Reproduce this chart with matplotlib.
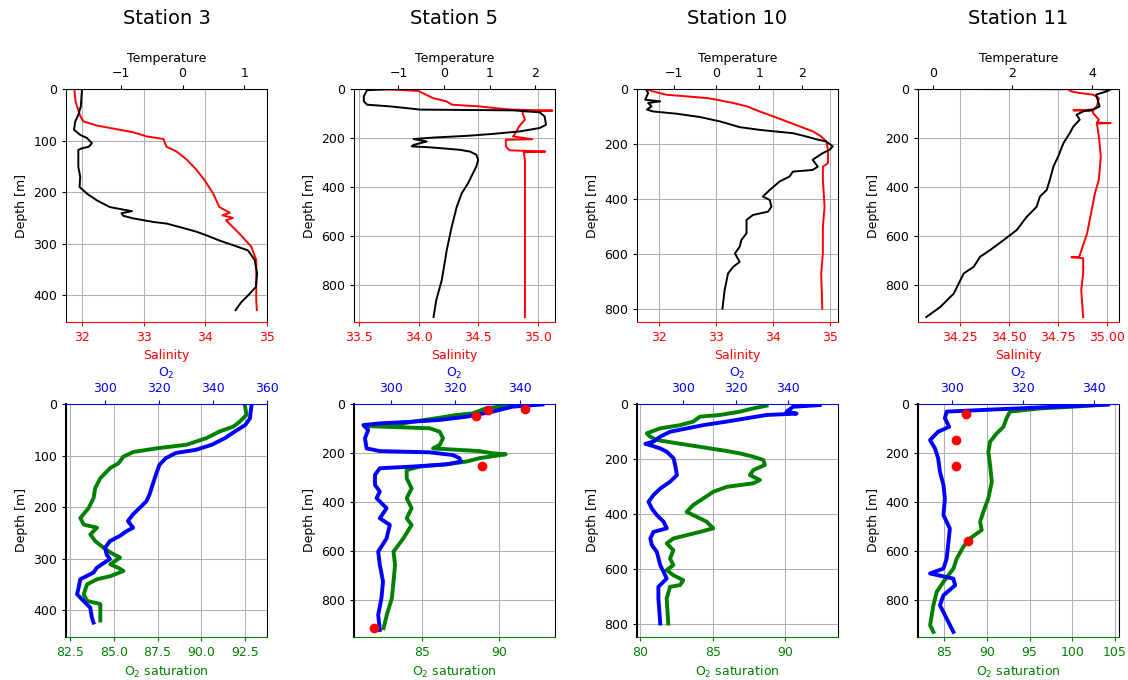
import matplotlib
matplotlib.use('Agg')
import matplotlib.pyplot as plt

# ---------------- data ----------------
stations = ['Station 3', 'Station 5', 'Station 10', 'Station 11']

# Station 3 CTD
s3_sal_d = [0, 24, 43, 53, 63, 71, 78, 84, 92, 97, 112, 121, 136, 157, 177, 203, 229, 240, 245, 250, 255, 281, 306, 332, 371, 410, 429]
s3_sal = [31.87, 31.89, 31.94, 31.97, 32.02, 32.24, 32.56, 32.83, 33.05, 33.32, 33.37, 33.53, 33.69, 33.86, 33.99, 34.13, 34.23, 34.40, 34.28, 34.45, 34.34, 34.56, 34.75, 34.83, 34.83, 34.83, 34.84]
s3_temp_d = [0, 34, 50, 63, 79, 89, 95, 105, 112, 115, 118, 151, 170, 190, 203, 216, 229, 234, 237, 241, 246, 251, 258, 261, 268, 277, 284, 294, 303, 313, 323, 332, 358, 384, 397, 414, 429]
s3_temp = [-1.63, -1.65, -1.69, -1.74, -1.76, -1.66, -1.55, -1.47, -1.52, -1.63, -1.69, -1.69, -1.66, -1.67, -1.55, -1.39, -1.18, -0.96, -0.82, -0.99, -0.96, -0.80, -0.47, -0.26, -0.04, 0.23, 0.39, 0.60, 0.82, 1.06, 1.12, 1.17, 1.21, 1.19, 1.09, 0.95, 0.86]
# Station 3 oxygen
s3_sat_d = [2, 21, 34, 44, 53, 66, 79, 86, 93, 102, 115, 124, 144, 163, 182, 202, 221, 234, 240, 253, 266, 279, 288, 298, 311, 318, 324, 334, 340, 350, 369, 382, 388, 404, 420]
s3_sat = [92.48, 92.58, 92.2, 91.82, 91.06, 90.3, 89.16, 87.45, 86.12, 85.55, 85.27, 84.8, 84.23, 83.94, 83.85, 83.56, 83.09, 83.28, 84.04, 83.66, 83.94, 84.42, 84.8, 85.36, 84.8, 85.27, 85.55, 84.8, 84.04, 83.47, 83.28, 83.47, 84.23, 84.23, 84.23]
s3_o2_d = [2, 28, 41, 53, 66, 79, 89, 95, 105, 118, 137, 156, 176, 189, 202, 214, 227, 240, 247, 256, 266, 279, 292, 301, 311, 318, 327, 340, 356, 369, 382, 395, 414, 424]
s3_o2 = [354.3, 353.7, 351.9, 348.2, 344.5, 339.6, 333.5, 326.2, 322.5, 320.1, 318.8, 317.6, 316.4, 315.2, 312.7, 310.3, 308.4, 310.3, 307.8, 305.4, 301.7, 299.9, 300.5, 301.7, 298.7, 296.8, 295.6, 290.7, 290.1, 289.5, 291.9, 294.4, 295.0, 295.6]
s3_bot_d = []
s3_bot_o2 = []

# Station 5 CTD
s5_sal_d = [0, 3, 8, 16, 37, 50, 64, 71, 78, 84, 88, 91, 98, 125, 153, 180, 193, 205, 207, 209, 234, 250, 255, 258, 289, 343, 500, 700, 930]
s5_sal = [33.55, 33.8, 34.0, 34.03, 34.12, 34.23, 34.28, 34.51, 34.64, 34.78, 35.12, 34.87, 34.87, 34.89, 34.84, 34.81, 34.79, 34.95, 34.73, 34.73, 34.73, 34.76, 35.06, 34.88, 34.89, 34.89, 34.89, 34.89, 34.89]
s5_temp_d = [0, 5, 30, 50, 64, 71, 78, 84, 87, 95, 112, 146, 159, 173, 183, 191, 198, 204, 214, 228, 234, 237, 241, 248, 255, 268, 289, 316, 357, 384, 425, 480, 561, 657, 780, 861, 930]
s5_temp = [-1.18, -1.69, -1.76, -1.76, -1.69, -1.18, -0.82, -0.52, 1.51, 2.10, 2.21, 2.24, 2.10, 1.66, 1.08, 0.50, -0.23, -0.67, -0.38, -0.67, -0.71, -0.38, -0.09, 0.35, 0.57, 0.71, 0.75, 0.71, 0.60, 0.53, 0.39, 0.28, 0.17, 0.06, -0.05, -0.17, -0.23]
# Station 5 oxygen
s5_sat_d = [4, 11, 18, 38, 45, 58, 72, 86, 90, 92, 99, 113, 140, 167, 181, 192, 201, 205, 221, 235, 246, 255, 269, 303, 344, 384, 425, 466, 493, 548, 602, 656, 724, 792, 860, 914]
s5_sat = [90.67, 90.02, 89.16, 88.3, 87.22, 85.93, 84.42, 83.13, 81.3, 82.26, 85.5, 86.14, 86.36, 86.14, 85.71, 88.73, 89.59, 90.45, 88.73, 87.87, 86.57, 84.85, 83.99, 83.99, 84.31, 83.99, 84.31, 83.99, 84.31, 83.77, 83.13, 83.23, 83.13, 83.02, 82.69, 82.48]
s5_o2_d = [2, 11, 31, 52, 65, 72, 79, 86, 106, 140, 181, 192, 197, 208, 221, 235, 246, 255, 262, 289, 330, 357, 384, 425, 466, 493, 548, 602, 656, 724, 792, 860, 921]
s5_o2 = [347, 337.7, 331.6, 323.3, 315.1, 306.9, 296.6, 291.5, 293.0, 292.0, 292.5, 296.6, 312.0, 319.2, 321.3, 321.8, 317.2, 306.9, 296.6, 295.1, 295.1, 296.6, 295.6, 298.7, 296.6, 299.7, 298.7, 296.1, 296.6, 297.6, 297.1, 296.1, 296.6]
s5_bot_d = [22, 24, 47, 252, 912]
s5_bot_o2 = [341.5, 330.2, 326.4, 328.4, 294.8]

# Station 10 CTD
s10_sal_d = [0, 9, 21, 27, 33, 39, 51, 63, 82, 100, 118, 136, 155, 173, 191, 222, 270, 283, 331, 429, 502, 599, 672, 800]
s10_sal = [31.75, 31.90, 32.13, 32.49, 32.84, 33.01, 33.30, 33.54, 33.77, 34.01, 34.24, 34.47, 34.71, 34.85, 34.94, 34.97, 34.97, 34.88, 34.88, 34.91, 34.88, 34.88, 34.85, 34.87]
s10_temp_d = [2, 15, 39, 45, 51, 63, 75, 82, 90, 102, 118, 139, 149, 155, 161, 173, 183, 191, 209, 222, 234, 258, 283, 295, 301, 319, 337, 368, 392, 404, 429, 447, 459, 477, 526, 550, 575, 599, 630, 648, 672, 733, 800]
s10_temp = [-1.64, -1.59, -1.66, -1.31, -1.59, -1.51, -1.62, -1.47, -0.93, -0.39, 0.08, 0.54, 1.01, 1.39, 1.78, 2.09, 2.32, 2.55, 2.71, 2.63, 2.47, 2.24, 2.36, 2.24, 1.78, 1.70, 1.47, 1.24, 1.08, 1.24, 1.28, 1.20, 0.85, 0.70, 0.70, 0.58, 0.54, 0.43, 0.54, 0.39, 0.27, 0.19, 0.14]
# Station 10 oxygen
s10_sat_d = [6, 16, 28, 40, 46, 64, 77, 89, 107, 119, 131, 143, 156, 162, 171, 180, 192, 204, 222, 241, 259, 277, 289, 302, 320, 344, 368, 393, 405, 429, 453, 466, 478, 490, 508, 533, 563, 587, 605, 624, 642, 660, 666, 709, 800]
s10_sat = [88.7, 87.78, 86.86, 85.49, 84.12, 83.66, 82.75, 81.37, 80.46, 80.69, 81.14, 82.52, 84.12, 84.81, 85.95, 86.86, 87.78, 88.47, 88.58, 87.78, 87.55, 88.24, 87.78, 85.95, 85.03, 84.35, 83.66, 83.2, 83.66, 84.58, 85.03, 84.12, 83.2, 82.29, 81.83, 82.29, 82.06, 82.29, 81.83, 82.29, 82.97, 82.75, 82.06, 81.83, 81.94]
s10_o2_d = [4, 10, 28, 35, 40, 52, 64, 77, 89, 101, 119, 137, 145, 150, 162, 174, 198, 222, 259, 283, 308, 332, 356, 381, 405, 429, 453, 466, 490, 514, 539, 587, 612, 636, 666, 709, 800]
s10_o2 = [352.2, 342.0, 339.5, 343.3, 331.8, 324.2, 316.6, 307.6, 301.3, 294.9, 291.1, 288.5, 285.4, 287.3, 291.1, 293.6, 296.2, 296.8, 297.5, 294.9, 291.1, 288.5, 286.6, 287.9, 289.8, 292.4, 293.6, 288.5, 287.3, 287.9, 289.8, 291.1, 292.4, 293.6, 290.4, 290.4, 291.1]
s10_bot_d = []
s10_bot_o2 = []

# Station 11 CTD
s11_sal_d = [0, 1, 10, 16, 23, 37, 71, 84, 87, 89, 98, 125, 137, 139, 141, 193, 275, 371, 425, 507, 589, 684, 686, 690, 752, 820, 930]
s11_sal = [34.09, 34.80, 34.82, 34.86, 34.93, 34.96, 34.95, 34.93, 34.83, 34.93, 34.93, 34.96, 34.95, 35.02, 34.95, 34.96, 34.97, 34.96, 34.94, 34.92, 34.90, 34.86, 34.82, 34.88, 34.88, 34.87, 34.88]
s11_temp_d = [0, 3, 10, 23, 50, 71, 84, 91, 105, 125, 153, 180, 221, 275, 316, 371, 412, 439, 480, 521, 575, 616, 657, 684, 725, 752, 834, 889, 930]
s11_temp = [4.1, 4.45, 4.36, 4.1, 4.15, 4.19, 4.03, 3.78, 3.61, 3.69, 3.53, 3.44, 3.28, 3.15, 3.03, 2.94, 2.86, 2.69, 2.61, 2.36, 2.11, 1.78, 1.44, 1.19, 1.03, 0.78, 0.53, 0.19, -0.16]
# Station 11 oxygen
s11_sat_d = [2, 11, 18, 31, 58, 93, 120, 154, 195, 249, 317, 385, 439, 480, 514, 548, 582, 630, 671, 725, 766, 820, 902, 929]
s11_sat = [104.06, 100.15, 96.2, 92.7, 92.3, 91.93, 91.14, 90.36, 90.16, 90.36, 90.56, 90.16, 89.58, 89.19, 89.38, 88.01, 87.23, 86.45, 86.06, 84.88, 84.1, 83.71, 83.32, 83.71]
s11_o2_d = [2, 11, 20, 31, 58, 93, 113, 147, 181, 222, 276, 331, 385, 453, 508, 562, 630, 671, 691, 712, 739, 780, 820, 875, 929]
s11_o2 = [344.0, 329.5, 315.3, 298.4, 297.9, 299.1, 296.0, 293.7, 295.1, 296.0, 296.5, 297.5, 297.9, 297.5, 299.3, 298.9, 298.4, 297.5, 293.7, 300.3, 300.8, 297.5, 296.5, 298.4, 300.3]
s11_bot_d = [41, 145, 252, 560]
s11_bot_o2 = [303.8, 301.0, 301.0, 304.3]

# axis ranges and tick labels
sal_lims = [(31.735, 35.005), (33.458, 35.142), (31.61, 35.146), (34.036, 35.063)]
temp_lims = [(-1.89, 1.37), (-1.976, 2.437), (-1.85, 2.83), (-0.367, 4.675)]
sat_lims = [(82.27, 93.75), (80.55, 93.67), (79.79, 93.61), (81.9, 105.5)]
o2_lims = [(285.4, 360.05), (288.6, 350.9), (282.2, 359.2), (290.3, 347.1)]
depth_max = [452, 950, 849, 950]

sal_ticks = [[32, 33, 34, 35], [33.5, 34.0, 34.5, 35.0], [32, 33, 34, 35], [34.25, 34.50, 34.75, 35.00]]
temp_ticks = [[-1, 0, 1], [-1, 0, 1, 2], [-1, 0, 1, 2], [0, 2, 4]]
sat_ticks = [[82.5, 85.0, 87.5, 90.0, 92.5], [85, 90], [80, 85, 90], [85, 90, 95, 100, 105]]
o2_ticks = [[300, 320, 340, 360], [300, 320, 340], [300, 320, 340], [300, 320, 340]]
depth_ticks = [[0, 100, 200, 300, 400], [0, 200, 400, 600, 800], [0, 200, 400, 600, 800], [0, 200, 400, 600, 800]]

ctd = [(s3_sal_d, s3_sal, s3_temp_d, s3_temp),
       (s5_sal_d, s5_sal, s5_temp_d, s5_temp),
       (s10_sal_d, s10_sal, s10_temp_d, s10_temp),
       (s11_sal_d, s11_sal, s11_temp_d, s11_temp)]
oxy = [(s3_sat_d, s3_sat, s3_o2_d, s3_o2, s3_bot_d, s3_bot_o2),
       (s5_sat_d, s5_sat, s5_o2_d, s5_o2, s5_bot_d, s5_bot_o2),
       (s10_sat_d, s10_sat, s10_o2_d, s10_o2, s10_bot_d, s10_bot_o2),
       (s11_sat_d, s11_sat, s11_o2_d, s11_o2, s11_bot_d, s11_bot_o2)]

# ---------------- figure ----------------
plt.rcParams.update({
    'font.size': 9,
    'xtick.major.size': 3.15, 'ytick.major.size': 3.15,
    'xtick.major.pad': 3.15, 'ytick.major.pad': 3.15,
    'axes.labelpad': 3.6,
    'axes.linewidth': 0.75,
    'grid.linewidth': 0.75,
})
FW, FH = 1128, 680
fig = plt.figure(figsize=(FW / 100, FH / 100), dpi=100)
lefts = [66, 354, 637, 918]
W, H = 201, 233
tops = [89, 404]


def rect(l, t):
    return [l / FW, 1 - (t + H) / FH, W / FW, H / FH]


for i in range(4):
    # ---- top row: salinity / temperature ----
    sal_d, sal, t_d, t = ctd[i]
    ax = fig.add_axes(rect(lefts[i], tops[0]))
    ax.plot(sal, sal_d, color='red', lw=1.4)
    ax.set_xticks(sal_ticks[i])
    ax.set_yticks(depth_ticks[i])
    ax.set_xlim(*sal_lims[i])
    ax.set_ylim(depth_max[i], 0)
    ax.grid(True)
    ax.set_ylabel('Depth [m]')
    ax.set_xlabel('Salinity', color='red')
    ax.tick_params(axis='x', colors='red')
    ax.spines['bottom'].set_color('red')
    ax2 = ax.twiny()
    ax2.plot(t, t_d, color='black', lw=1.4)
    ax2.set_xticks(temp_ticks[i])
    ax2.set_xlim(*temp_lims[i])
    ax2.set_xlabel('Temperature')
    ax2.spines['bottom'].set_color('red')

    # ---- bottom row: O2 saturation / O2 ----
    sat_d, sat, o_d, o, b_d, b_o = oxy[i]
    bx = fig.add_axes(rect(lefts[i], tops[1]))
    bx.plot(sat, sat_d, color='green', lw=2.8)
    bx.set_xticks(sat_ticks[i])
    bx.set_yticks(depth_ticks[i])
    bx.set_xlim(*sat_lims[i])
    bx.set_ylim(depth_max[i], 0)
    bx.grid(True)
    bx.set_ylabel('Depth [m]')
    bx.set_xlabel('O$_2$ saturation', color='green')
    bx.tick_params(axis='x', colors='green')
    bx.spines['bottom'].set_color('green')
    bx.spines['top'].set_color('blue')
    bx2 = bx.twiny()
    bx2.plot(o, o_d, color='blue', lw=2.8)
    if b_d:
        bx2.plot(b_o, b_d, 'o', color='red', ms=6, zorder=5)
    bx2.set_xticks(o2_ticks[i])
    bx2.set_xlim(*o2_lims[i])
    bx2.set_xlabel('O$_2$', color='blue')
    bx2.tick_params(axis='x', colors='blue')
    bx2.spines['top'].set_color('blue')
    bx2.spines['bottom'].set_color('green')
    bx2.spines['left'].set_linewidth(1.5)

    fig.text((lefts[i] + W / 2) / FW, 1 - 18 / FH, stations[i],
             ha='center', va='center', fontsize=14)

fig.savefig('out.png', dpi=100)
